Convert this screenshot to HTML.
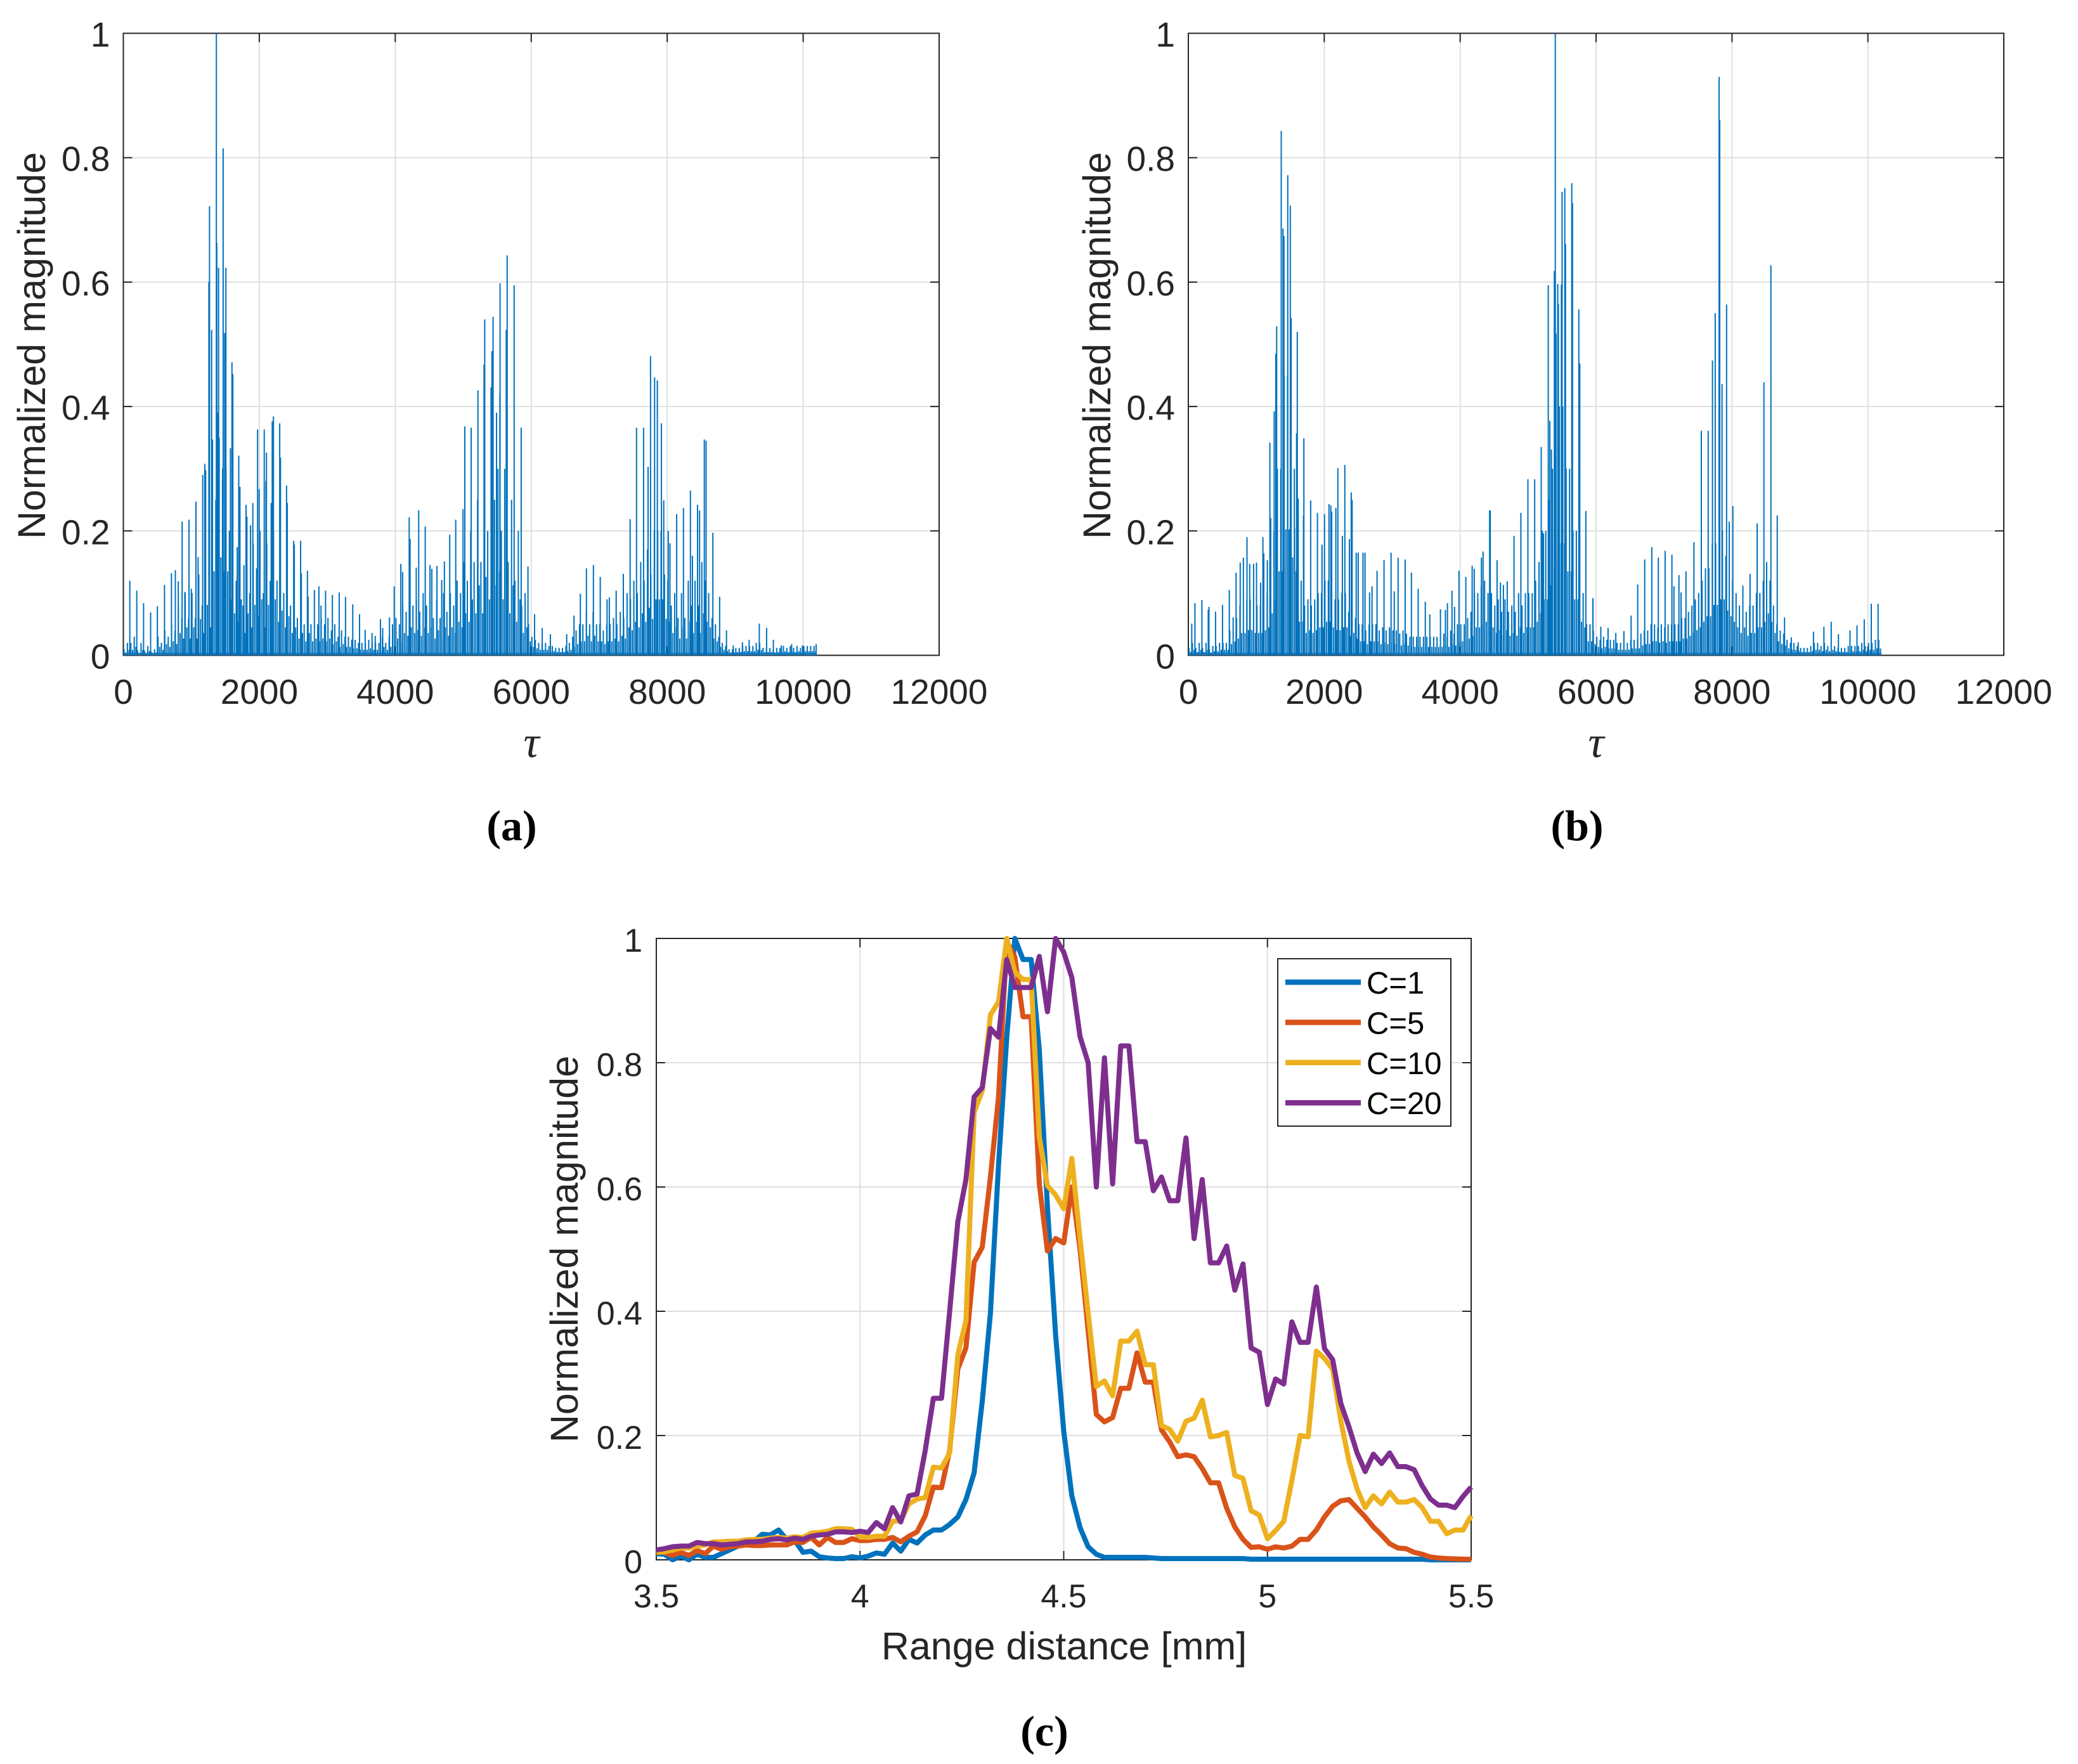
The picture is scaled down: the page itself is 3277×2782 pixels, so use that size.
<!DOCTYPE html>
<html lang="en">
<head>
<meta charset="utf-8">
<title>Normalized magnitude figure</title>
<style>
html,body{margin:0;padding:0;background:#fff;}
svg{display:block;}
text{font-family:"Liberation Sans",sans-serif;fill:#262626;}
.cap{font-family:"Liberation Serif",serif;font-weight:bold;font-size:68px;fill:#000;text-anchor:middle;}
.tau{font-family:"Liberation Serif",serif;font-style:italic;font-size:70px;text-anchor:middle;}
.ttl{font-size:61px;text-anchor:middle;}
</style>
</head>
<body>
<svg id="figure" xmlns="http://www.w3.org/2000/svg" width="3277" height="2782" viewBox="0 0 3277 2782">
<rect x="0" y="0" width="3277" height="2782" fill="#fff"/>
<g id="panel-a"></g>
<g id="panel-b"></g>
<g id="panel-c"></g>
<text class="ttl" transform="translate(71,545) rotate(-90)">Normalized magnitude</text>
<text class="ttl" transform="translate(1751,545) rotate(-90)">Normalized magnitude</text>
<text class="ttl" transform="translate(911,1970) rotate(-90)">Normalized magnitude</text>
<text class="tau" x="838" y="1194">τ</text>
<text class="tau" x="2517" y="1194">τ</text>
<text class="ttl" x="1678" y="2617">Range distance [mm]</text>
<text class="cap" x="807" y="1325">(a)</text>
<text class="cap" x="2487" y="1325">(b)</text>
<text class="cap" x="1647" y="2753">(c)</text>
</svg>
<script>
// ---------- shared tick labels ----------
const tauTicks = [0, 2000, 4000, 6000, 8000, 10000, 12000];
const magTicks = [0, 0.2, 0.4, 0.6, 0.8, 1];
const rangeTicks = [3.5, 4, 4.5, 5, 5.5];

// ---------- panel (a): tallest spikes ----------
const tauA = [95,198,298,401,501,605,708,765,808,865,905,965,1000,1068,1100,1168,1198,1211,1258,1268,1298,1311,1368,1375,1388,1401,1458,1468,1491,1508,1575,1598,1611,1675,1698,1715,1775,1805,1818,1871,1905,1975,1998,2073,2098,2105,2175,2190,2208,2300,2311,2401,2411,2505,2515,2608,2618,2708,2718,2810,2877,2907,2975,3075,3175,3268,3375,3475,3558,3658,3705,3782,3815,3915,3985,4082,4108,4205,4218,4308,4345,4441,4511,4538,4613,4683,4723,4801,4890,4997,5023,5116,5216,5306,5316,5409,5422,5439,5489,5539,5542,5632,5646,5749,5852,5952,6049,6162,6282,6522,6629,6722,6812,6915,7015,7115,7149,7249,7355,7455,7549,7652,7719,7755,7815,7855,7915,7949,8015,8040,8139,8239,8342,8372,8446,8476,8546,8572,8672,8772,8872,8972,9106,9205,9355,9462,9562,9680,9830,9990,10190];
const magA = [.12,.104,.084,.069,.079,.113,.132,.137,.119,.215,.102,.218,.107,.247,.158,.29,.308,.298,.6,.722,.523,.347,1,.663,.39,.623,.28,.815,.518,.623,.333,.471,.452,.174,.321,.271,.145,.242,.223,.209,.245,.363,.267,.363,.28,.326,.245,.376,.384,.373,.318,.273,.245,.184,.178,.184,.132,.136,.094,.105,.111,.08,.104,.097,.101,.094,.082,.066,.041,.036,.031,.058,.044,.061,.111,.147,.134,.222,.187,.141,.233,.207,.145,.139,.144,.121,.151,.194,.218,.235,.368,.366,.426,.467,.54,.431,.489,.544,.39,.419,.598,.523,.643,.595,.366,.143,.066,.044,.034,.034,.064,.099,.14,.145,.126,.09,.093,.104,.131,.219,.366,.366,.303,.481,.447,.442,.373,.249,.2,.18,.227,.237,.265,.16,.242,.233,.347,.345,.197,.094,.04,.016,.021,.025,.051,.044,.025,.016,.018,.016,.018];

// ---------- panel (a): dense body height per 50-tau bin ----------
const binWidth = 50;
const bodyA = [.01,.02,.02,.03,.008,.02,.008,.015,.006,.01,
.03,.02,.04,.03,.05,.04,.08,.06,.1,.06,
.1,.06,.13,.08,.18,.1,.3,.25,.35,.3,
.3,.2,.15,.12,.2,.08,.15,.1,.18,.14,
.2,.1,.18,.12,.2,.12,.16,.1,.14,.08,
.1,.06,.08,.05,.08,.05,.06,.05,.06,.05,
.06,.04,.05,.03,.04,.03,.03,.025,.025,.02,
.02,.02,.025,.02,.02,.02,.03,.02,.03,.05,
.06,.05,.08,.07,.1,.08,.09,.07,.1,.08,
.1,.06,.09,.06,.1,.07,.1,.08,.12,.1,
.15,.12,.2,.15,.25,.15,.28,.2,.3,.25,
.3,.2,.3,.15,.25,.12,.2,.08,.1,.05,
.03,.025,.02,.02,.02,.015,.015,.012,.012,.012,
.015,.02,.03,.04,.05,.05,.07,.05,.07,.05,
.05,.04,.05,.05,.06,.05,.07,.06,.1,.09,
.12,.1,.15,.12,.17,.13,.2,.2,.2,.13,
.12,.08,.1,.06,.1,.06,.12,.08,.12,.08,
.15,.12,.1,.06,.05,.03,.02,.015,.01,.01,
.012,.012,.015,.015,.015,.015,.02,.02,.012,.012,
.012,.01,.012,.012,.015,.012,.015,.012,.015,.012,.015,.015,.015,.015];

// ---------- panel (b): tallest spikes ----------
const tauB = [50,97,200,293,303,400,503,603,660,703,763,810,863,903,960,1003,1063,1097,1110,1163,1200,1213,1263,1287,1300,1367,1393,1407,1463,1500,1513,1563,1593,1603,1617,1695,1700,1800,1900,1967,2003,2070,2097,2110,2170,2200,2267,2303,2370,2397,2410,2470,2500,2570,2600,2667,2703,2777,2880,2983,3030,3087,3190,3283,3383,3487,3553,3710,3783,3813,3880,3917,3983,4083,4177,4207,4313,4337,4433,4443,4543,4593,4637,4693,4793,4893,4997,5097,5193,5226,5296,5320,5343,5386,5400,5410,5436,5446,5490,5500,5540,5550,5643,5653,5746,5760,5850,5953,6070,6176,6290,6410,6516,6613,6716,6820,6916,7016,7116,7146,7220,7250,7323,7440,7549,7650,7713,7753,7810,7820,7853,7920,7960,8013,8160,8266,8370,8470,8573,8666,8773,8873,8975,9200,9353,9460,9566,9736,9840,9946,10050,10150];
const magB = [.051,.084,.089,.073,.078,.07,.081,.105,.061,.133,.149,.157,.19,.147,.147,.149,.117,.19,.164,.153,.342,.221,.392,.485,.529,.843,.686,.674,.772,.723,.542,.205,.357,.52,.252,.225,.349,.249,.229,.178,.227,.243,.241,.231,.237,.301,.192,.306,.187,.262,.25,.165,.165,.165,.165,.101,.111,.136,.153,.165,.103,.157,.154,.133,.107,.086,.066,.074,.073,.084,.104,.078,.136,.126,.144,.139,.157,.167,.233,.233,.153,.117,.113,.119,.192,.229,.283,.283,.335,.196,.595,.377,.331,.618,1,.517,.597,.565,.596,.745,.751,.661,.759,.727,.556,.469,.232,.092,.046,.044,.036,.039,.064,.114,.154,.174,.157,.168,.162,.111,.129,.101,.135,.182,.361,.361,.474,.55,.93,.861,.436,.564,.215,.24,.112,.131,.212,.439,.627,.225,.061,.029,.021,.038,.046,.054,.034,.04,.048,.058,.083,.083];

// ---------- panel (b): dense body height per 50-tau bin ----------
const bodyB = [.012,.02,.012,.02,.012,.02,.01,.015,.015,.02,
.02,.02,.04,.05,.06,.08,.08,.09,.09,.08,
.08,.08,.09,.1,.15,.2,.3,.3,.45,.45,
.35,.3,.12,.12,.08,.09,.08,.09,.1,.1,
.12,.12,.1,.09,.09,.1,.1,.07,.08,.06,
.05,.05,.04,.05,.05,.05,.04,.045,.04,.045,
.04,.04,.035,.04,.035,.03,.03,.03,.03,.03,
.03,.03,.03,.03,.03,.035,.03,.04,.035,.05,
.05,.05,.06,.07,.1,.1,.11,.12,.1,.1,
.08,.09,.07,.09,.07,.08,.07,.1,.08,.1,
.1,.1,.12,.15,.2,.2,.25,.3,.35,.4,
.4,.3,.3,.2,.2,.12,.1,.05,.05,.04,
.03,.025,.03,.025,.025,.025,.02,.02,.02,.02,
.025,.025,.025,.035,.04,.04,.05,.05,.045,.05,
.045,.05,.05,.05,.05,.06,.06,.07,.08,.09,
.1,.12,.14,.14,.18,.18,.2,.2,.16,.14,
.12,.1,.08,.1,.07,.08,.08,.1,.1,.12,
.15,.12,.08,.05,.04,.035,.025,.02,.02,.015,
.012,.012,.012,.015,.02,.02,.015,.02,.015,.02,
.015,.012,.012,.012,.015,.015,.015,.015,.02,.015,.02,.02,.025,.025];

// ---------- panel (c): range distance samples and series ----------
const rangeMm = [3.5,3.52,3.54,3.56,3.58,3.6,3.62,3.64,3.66,3.68,3.7,3.72,3.74,3.76,3.78,3.8,3.82,3.84,3.86,3.88,3.9,3.92,3.94,3.96,3.98,4,4.02,4.04,4.06,4.08,4.1,4.12,4.14,4.16,4.18,4.2,4.22,4.24,4.26,4.28,4.3,4.32,4.34,4.36,4.38,4.4,4.42,4.44,4.46,4.48,4.5,4.52,4.54,4.56,4.58,4.6,4.62,4.64,4.66,4.68,4.7,4.72,4.74,4.76,4.78,4.8,4.82,4.84,4.86,4.88,4.9,4.92,4.94,4.96,4.98,5,5.02,5.04,5.06,5.08,5.1,5.12,5.14,5.16,5.18,5.2,5.22,5.24,5.26,5.28,5.3,5.32,5.34,5.36,5.38,5.4,5.42,5.44,5.46,5.48,5.5];
const seriesC1 = [.01,.009,0,.006,0,.009,.004,.004,.01,.016,
.022,.026,.03,.041,.04,.048,.033,.031,.012,.014,
.005,.003,.002,.002,.005,.003,.006,.011,.009,.027,
.014,.033,.027,.04,.048,.048,.057,.069,.097,.14,
.255,.397,.636,.84,1,.966,.966,.82,.568,.362,
.207,.103,.052,.021,.009,.004,.004,.004,.004,.004,
.004,.003,.002,.002,.002,.002,.002,.002,.002,.002,
.002,.002,.002,.001,.001,.001,.001,.001,.001,.001,
.001,.001,.001,.001,.001,.001,.001,.001,.001,.001,
.001,.001,.001,.001,.001,0,0,0,0,0,0];
const seriesC5 = [.012,.012,.007,.012,.007,.015,.01,.022,.017,.021,
.022,.024,.023,.023,.024,.024,.024,.029,.028,.036,
.024,.036,.028,.028,.034,.031,.031,.033,.033,.036,
.029,.038,.045,.071,.117,.116,.176,.307,.341,.479,
.503,.616,.745,.995,.97,.874,.874,.605,.497,.517,
.51,.6,.5,.369,.234,.222,.229,.276,.276,.333,
.286,.286,.209,.19,.166,.169,.166,.147,.124,.124,
.083,.053,.033,.02,.021,.017,.021,.019,.022,.033,
.033,.048,.069,.086,.095,.097,.083,.069,.053,.04,
.026,.019,.018,.012,.009,.0045,.003,.002,.0015,.001,.001];
const seriesC10 = [.012,.013,.016,.019,.019,.022,.024,.029,.029,.03,
.03,.032,.033,.033,.035,.036,.035,.037,.036,.043,
.044,.046,.05,.05,.049,.037,.036,.038,.038,.062,
.063,.09,.098,.1,.149,.148,.172,.33,.385,.72,
.755,.877,.898,1,.946,.934,.934,.68,.602,.587,
.565,.646,.517,.397,.279,.288,.264,.352,.352,.368,
.314,.314,.216,.21,.191,.223,.228,.257,.198,.2,
.205,.136,.131,.079,.072,.034,.047,.062,.128,.2,
.198,.336,.324,.307,.224,.159,.114,.084,.103,.09,
.109,.093,.093,.097,.084,.062,.062,.042,.048,.048,.071];
const seriesC20 = [.016,.018,.021,.022,.022,.028,.026,.026,.024,.025,
.026,.029,.029,.03,.033,.034,.032,.035,.033,.038,
.04,.041,.045,.045,.044,.046,.044,.06,.05,.084,
.061,.103,.106,.176,.26,.26,.4,.544,.612,.745,
.76,.855,.841,.966,.921,.921,.921,.971,.882,1,
.978,.937,.842,.8,.6,.808,.605,.827,.827,.673,
.673,.594,.616,.578,.578,.679,.517,.612,.478,.478,
.505,.434,.476,.341,.334,.25,.291,.283,.383,.35,
.35,.439,.34,.322,.252,.214,.172,.142,.17,.155,
.172,.15,.15,.145,.119,.098,.088,.088,.084,.102,.117];
const legendLabels = ['C=1', 'C=5', 'C=10', 'C=20'];

const SVGNS = 'http://www.w3.org/2000/svg';
const GRID = '#dfdfdf', INK = '#262626', BLUE = '#0072bd';
const COLORS = ['#0072bd', '#d95319', '#edb120', '#7e2f8e'];

function mk(tag, attrs, parent, txt) {
  const el = document.createElementNS(SVGNS, tag);
  for (const k in attrs) el.setAttribute(k, attrs[k]);
  if (txt !== undefined) el.textContent = txt;
  parent.appendChild(el);
  return el;
}
function linear(d0, d1, r0, r1) {
  return v => r0 + (v - d0) * (r1 - r0) / (d1 - d0);
}
function drawAxes(parent, box, xDomain, xTicks, yTicks, fs, yOff, xBase, yLabelGap) {
  const X = linear(xDomain[0], xDomain[1], box.l, box.r);
  const Y = linear(0, 1, box.b, box.t);
  xTicks.forEach(t => {
    const g = mk('line', {x1: X(t), x2: X(t), y1: box.b, y2: box.t, stroke: GRID, 'stroke-width': 2}, parent);
    
    
  });
  yTicks.forEach(t => {
    const g = mk('line', {x1: box.l, x2: box.r, y1: Y(t), y2: Y(t), stroke: GRID, 'stroke-width': 2}, parent);
    
    
  });
  const frame = mk('rect', {x: box.l, y: box.t, width: box.r - box.l, height: box.b - box.t, fill: 'none', stroke: INK, 'stroke-width': 2}, parent);
  
  
  xTicks.forEach(t => {
    [[box.b, box.b - 14], [box.t, box.t + 14]].forEach(p => {
      const m = mk('line', {x1: X(t), x2: X(t), y1: p[0], y2: p[1], stroke: INK, 'stroke-width': 2}, parent);
      
      
    });
    const lab = mk('text', {x: X(t), y: xBase, 'font-size': fs, 'text-anchor': 'middle'}, parent, String(t));
    
    
  });
  yTicks.forEach(t => {
    [[box.l, box.l + 14], [box.r, box.r - 14]].forEach(p => {
      const m = mk('line', {x1: p[0], x2: p[1], y1: Y(t), y2: Y(t), stroke: INK, 'stroke-width': 2}, parent);
      
      
    });
    const lab = mk('text', {x: box.l - yLabelGap, y: Y(t) + yOff, 'font-size': fs, 'text-anchor': 'end'}, parent, String(t));
    
    
  });
  return {X, Y};
}
function spectrumPath(sc, taus, mags, body) {
  const base = sc.Y(0).toFixed(1);
  const floorY = sc.Y(0.003).toFixed(1);
  let d = 'M' + sc.X(0).toFixed(1) + ' ' + floorY + 'L' + sc.X(body.length * binWidth).toFixed(1) + ' ' + floorY;
  body.forEach((v, i) => {
    const t = i * binWidth;
    const x1 = sc.X(t + 10).toFixed(1);
    const x2 = sc.X(t + 35).toFixed(1);
    d += 'M' + x1 + ' ' + base + 'L' + x1 + ' ' + sc.Y(v).toFixed(1);
    d += 'M' + x2 + ' ' + base + 'L' + x2 + ' ' + sc.Y(v * 0.45).toFixed(1);
  });
  taus.forEach((t, i) => {
    const x = sc.X(t).toFixed(1);
    d += 'M' + x + ' ' + base + 'L' + x + ' ' + sc.Y(mags[i]).toFixed(1);
  });
  return d;
}

const boxA = {l: 194.5, r: 1481, t: 52.5, b: 1033.5};
const boxB = {l: 1874, r: 3160, t: 52.5, b: 1033.5};
const boxC = {l: 1035, r: 2320, t: 1480, b: 2460};

const gA = document.getElementById('panel-a');
const scA = drawAxes(gA, boxA, [0, 12000], tauTicks, magTicks, 55, 21, 1110, 21);
const lineA = mk('path', {d: spectrumPath(scA, tauA, magA, bodyA), fill: 'none', stroke: BLUE, 'stroke-width': 2}, gA);



const gB = document.getElementById('panel-b');
const scB = drawAxes(gB, boxB, [0, 12000], tauTicks, magTicks, 55, 21, 1110, 21);
const lineB = mk('path', {d: spectrumPath(scB, tauB, magB, bodyB), fill: 'none', stroke: BLUE, 'stroke-width': 2}, gB);



const gC = document.getElementById('panel-c');
const scC = drawAxes(gC, boxC, [3.5, 5.5], rangeTicks, magTicks, 52, 21, 2535, 22);
[seriesC1, seriesC5, seriesC10, seriesC20].forEach((vals, s) => {
  const pts = vals.map((v, i) => scC.X(rangeMm[i]).toFixed(1) + ',' + scC.Y(v).toFixed(1)).join(' ');
  const pl = mk('polyline', {points: pts, fill: 'none', stroke: COLORS[s], 'stroke-width': 8, 'stroke-linejoin': 'round'}, gC);
  
  
});

const legend = mk('g', {}, gC);


const legendBox = mk('rect', {x: 2015, y: 1512, width: 273, height: 264, fill: '#fff', stroke: INK, 'stroke-width': 2}, legend);


legendLabels.forEach((label, s) => {
  const ly = 1549 + s * 63.4;
  const swatch = mk('line', {x1: 2027, x2: 2146, y1: ly, y2: ly, stroke: COLORS[s], 'stroke-width': 8.5}, legend);
  
  
  const tx = mk('text', {x: 2155, y: ly + 18, 'font-size': 49, style: 'fill:#000'}, legend, label);
  
  
});
</script>
</body>
</html>
